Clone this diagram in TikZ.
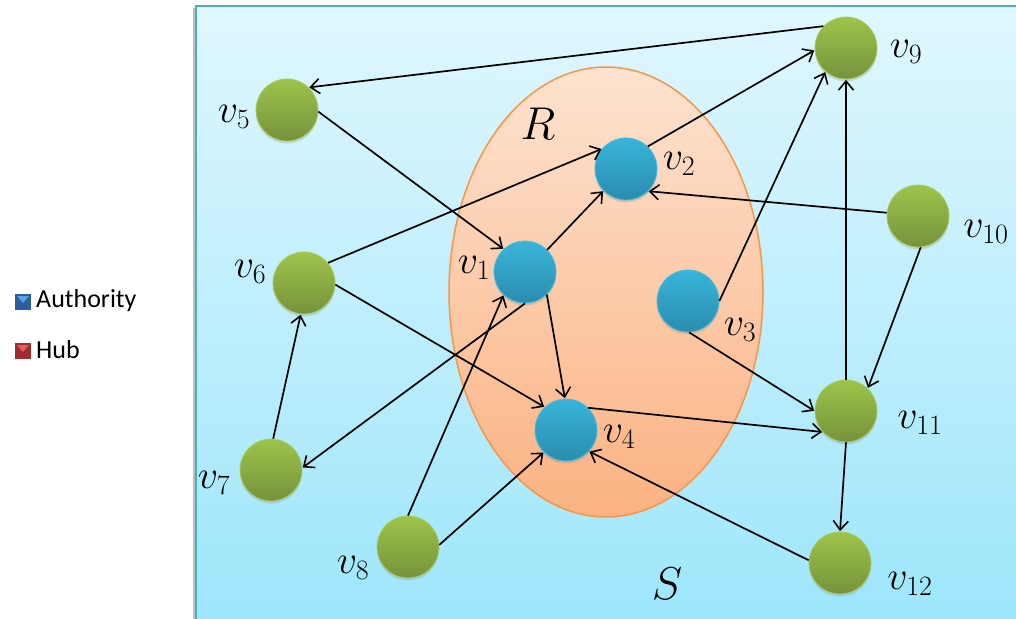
\RequirePackage{fix-cm}
\documentclass[tikz,border=0pt]{standalone}
\usepackage{fontspec}
\newfontfamily\legfont{Carlito}
\usetikzlibrary{arrows.meta,shadows}
\definecolor{bgtop}{HTML}{E0F7FE}
\definecolor{bgbot}{HTML}{9DE6FB}
\definecolor{bgedge}{HTML}{4BACC6}
\definecolor{eltop}{HTML}{FDE3D0}
\definecolor{elbot}{HTML}{FBB282}
\definecolor{eledge}{HTML}{F79646}
\definecolor{gtop}{HTML}{9DC44A}
\definecolor{gbot}{HTML}{76923C}
\definecolor{gedge}{HTML}{A8CC5A}
\definecolor{btop}{HTML}{38B4DA}
\definecolor{bbot}{HTML}{2A8DAE}
\definecolor{bedge}{HTML}{45BCE0}
\definecolor{authA}{HTML}{305E9C}
\definecolor{authB}{HTML}{5AA2E6}
\definecolor{hubA}{HTML}{A02C2C}
\definecolor{hubB}{HTML}{E06060}
\tikzset{
  gnode/.style={circle, minimum size=62pt, inner sep=0pt, top color=gtop, bottom color=gbot, draw=gedge, line width=0.8pt,
    drop shadow={opacity=0.25, shadow xshift=0pt, shadow yshift=-2.5pt}},
  bnode/.style={circle, minimum size=62pt, inner sep=0pt, top color=btop, bottom color=bbot, draw=bedge, line width=0.8pt,
    drop shadow={opacity=0.25, shadow xshift=0pt, shadow yshift=-2.5pt}},
  vlab/.style={inner sep=0pt, font=\fontsize{40}{44}\selectfont},
  setlab/.style={inner sep=0pt, font=\fontsize{46}{50}\selectfont},
  legtext/.style={inner sep=0pt, anchor=west, font=\legfont\fontsize{26}{28}\selectfont},
  edge/.style={line width=1.7pt, -{Straight Barb[length=9pt,width=15pt,line width=1.6pt]}, shorten >=0.5pt}
}
\begin{document}
\begin{tikzpicture}[x=1pt,y=-1pt]
\useasboundingbox (0,0) rectangle (1016,618);
% background region S
\fill[black!25] (193,8) rectangle (196,625);
\shade[top color=bgtop, bottom color=bgbot] (196,6) rectangle (1022,624);
\draw[bgedge, line width=2pt] (196,624) -- (196,6) -- (1022,6);
% region R
\shade[top color=eltop, bottom color=elbot] (606,292) ellipse [x radius=157, y radius=225];
\draw[eledge, line width=1.5pt] (606,292) ellipse [x radius=157, y radius=225];
\node[setlab] (R) at (538,124) {$R$};
\node[setlab] (S) at (667,584) {$S$};
% nodes
\node[gnode] (v5) at (287,110) {};
\node[gnode] (v6) at (304,283) {};
\node[gnode] (v7) at (271,470) {};
\node[gnode] (v8) at (408,547) {};
\node[gnode] (v9) at (846,48) {};
\node[gnode] (v10) at (918,216) {};
\node[gnode] (v11) at (846,411) {};
\node[gnode] (v12) at (840,563) {};
\node[bnode] (v1) at (525,272) {};
\node[bnode] (v2) at (626,169) {};
\node[bnode] (v3) at (688,301) {};
\node[bnode] (v4) at (566,430) {};
% labels
\node[vlab] (l1) at (474,268) {$v_1$};
\node[vlab] (l2) at (679,164) {$v_2$};
\node[vlab] (l3) at (740,330) {$v_3$};
\node[vlab] (l4) at (619,437) {$v_4$};
\node[vlab] (l5) at (234,117) {$v_5$};
\node[vlab] (l6) at (250,272) {$v_6$};
\node[vlab] (l7) at (214,483) {$v_7$};
\node[vlab] (l8) at (353,568) {$v_8$};
\node[vlab] (l9) at (906,52) {$v_9$};
\node[vlab] (l10) at (986,232) {$v_{10}$};
\node[vlab] (l11) at (920,423) {$v_{11}$};
\node[vlab] (l12) at (910,584) {$v_{12}$};
% edges
\draw[edge] (v9.136) -- (v5.46);
\draw[edge] (v5.-3) -- (v1.133);
\draw[edge] (v6.40) -- (v2.140);
\draw[edge] (v1.45) -- (v2.224);
\draw[edge] (v2.46) -- (v9.184);
\draw[edge] (v3.0) -- (v9.229);
\draw[edge] (v10.174) -- (v2.-45);
\draw[edge] (v10.-85) -- (v11.46);
\draw[edge] (v11.90) -- (v9.270);
\draw[edge] (v6.-3) -- (v4.133);
\draw[edge] (v1.-46) -- (v4.92);
\draw[edge] (v1.-90) -- (v7.4);
\draw[edge] (v7.86) -- (v6.264);
\draw[edge] (v8.90) -- (v1.227);
\draw[edge] (v8.4) -- (v4.225);
\draw[edge] (v3.-88) -- (v11.180);
\draw[edge] (v4.45) -- (v11.222);
\draw[edge] (v11.-90) -- (v12.90);
\draw[edge] (v12.175) -- (v4.-43);
% legend
\fill[authA] (15,294) rectangle (31,310);
\fill[authB] (17,296) -- (29,296) -- (23,303) -- cycle;
\node[legtext] (auth) at (36,301) {Authority};
\fill[hubA] (15,343) rectangle (31,359);
\fill[hubB] (17,345) -- (29,345) -- (23,352) -- cycle;
\node[legtext] (hub) at (36,350) {Hub};
\end{tikzpicture}
\end{document}
